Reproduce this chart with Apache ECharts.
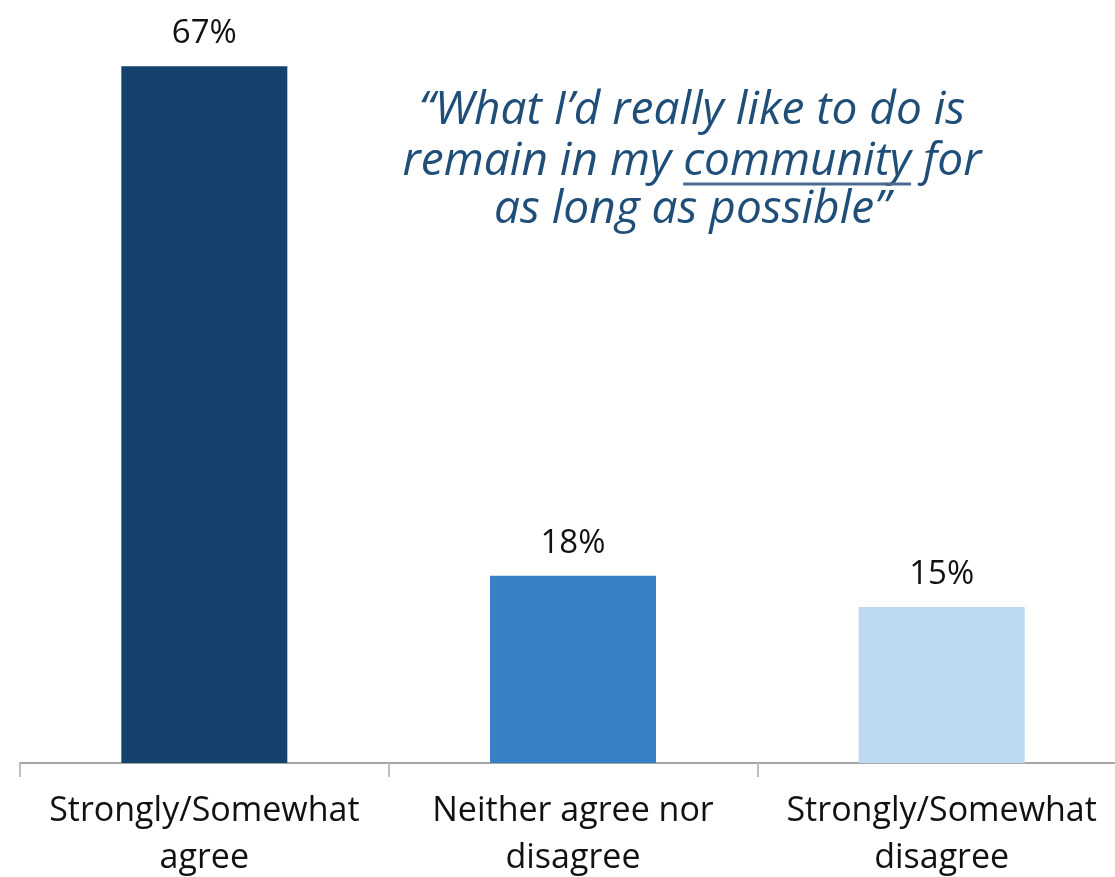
<!DOCTYPE html>
<html>
<head>
<meta charset="utf-8">
<script src="https://cdn.jsdelivr.net/npm/echarts@6/dist/echarts.min.js"></script>
<style>
html,body{margin:0;padding:0;background:#fff;}
#chart{width:1115px;height:877px;}
</style>
</head>
<body>
<div id="chart"></div>
<script>
const categories = ["Strongly/Somewhat\nagree", "Neither agree nor\ndisagree", "Strongly/Somewhat\ndisagree"];
const values = [67, 18, 15];
const barColors = ["#14426C", "#3780C6", "#BDD9F2"];
const quoteLines = ["\u201CWhat I\u2019d really like to do is", ["remain in my ", "community", " for"], "as long as possible\u201D"];

const chart = echarts.init(document.getElementById('chart'), null, {renderer: 'canvas'});

const quoteFont = 'italic 46px "Open Sans"';
const quoteColor = "#1F4E79";
const cx = 692;
const lineYs = [111, 162, 210];

const ctx = document.createElement('canvas').getContext('2d');
ctx.font = quoteFont;

const graphics = [];
graphics.push({type:'text', x: cx, y: lineYs[0], style:{text: quoteLines[0], font: quoteFont, fill: quoteColor, align:'center', verticalAlign:'middle'}});
graphics.push({type:'text', x: cx, y: lineYs[2], style:{text: quoteLines[2], font: quoteFont, fill: quoteColor, align:'center', verticalAlign:'middle'}});
const parts = quoteLines[1];
const widths = parts.map(p => ctx.measureText(p).width);
const total = widths.reduce((a,b)=>a+b,0);
let xs = cx - total/2;
parts.forEach((p,i) => {
  graphics.push({type:'text', x: xs, y: lineYs[1], style:{text: p, font: quoteFont, fill: quoteColor, align:'left', verticalAlign:'middle'}});
  if (i === 1) {
    graphics.push({type:'line', shape:{x1: xs, y1: lineYs[1]+22, x2: xs + widths[i], y2: lineYs[1]+22}, style:{stroke:'#4A6B8F', lineWidth:3}});
  }
  xs += widths[i];
});

chart.setOption({
  animation: false,
  backgroundColor: '#ffffff',
  grid: {left: 20, width: 1106, top: 35, bottom: 114, containLabel: false, outerBoundsMode: 'none'},
  xAxis: {
    type: 'category',
    data: categories,
    axisLine: {show: true, lineStyle: {color: '#A6A6A6', width: 2}},
    axisTick: {show: true, length: 14, lineStyle: {color: '#BFBFBF', width: 2}},
    axisLabel: {color: '#111111', fontSize: 34, fontFamily: '"Open Sans"', lineHeight: 47, margin: 25, interval: 0}
  },
  yAxis: {
    type: 'value', min: 0, max: 70,
    show: false,
    splitLine: {show: false}
  },
  series: [{
    type: 'bar',
    data: values.map((v,i) => ({value: v, itemStyle: {color: barColors[i]}})),
    barWidth: 166,
    label: {show: true, position: 'top', distance: 16, formatter: '{c}%', color: '#111111', fontSize: 33, fontFamily: '"Open Sans"'}
  }],
  graphic: graphics
});
</script>
</body>
</html>
